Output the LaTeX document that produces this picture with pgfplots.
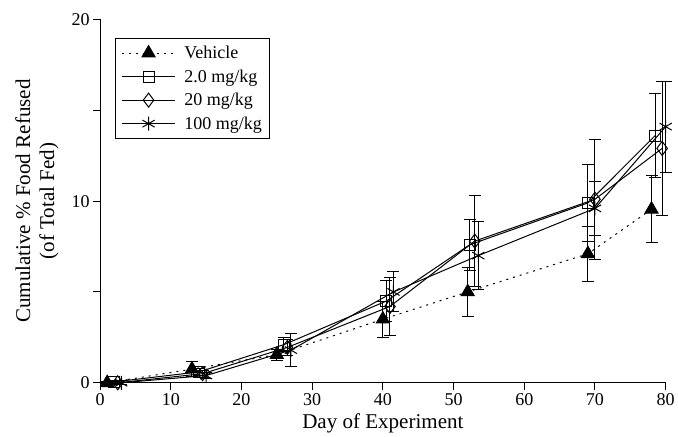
\documentclass[border={12pt 0pt 0pt 10pt}]{standalone}
\usepackage{fontspec}
\setmainfont{Liberation Serif}
\usepackage{pgfplots}
\pgfplotsset{compat=1.18}
\pgfplotstableread{
x y e
1 0 0.05
13 0.75 0.4
25 1.55 0.3
40 3.5 1.0
52 5.0 1.35
69 7.1 1.5
78 9.55 1.85
}\veh
\pgfplotstableread{
x y e
2 0.05 0.1
14 0.6 0.2
26 2.1 0.4
40.5 4.5 1.15
52.3 7.6 1.4
69 9.9 2.1
78.5 13.6 2.3
}\sq
\pgfplotstableread{
x y e
2.5 0 0.1
14.5 0.5 0.2
26.5 1.95 0.45
41 4.2 1.6
53 7.8 2.5
70 10.1 3.3
79.5 12.9 3.7
}\dia
\pgfplotstableread{
x y e
3 0 0.1
15 0.4 0.15
27 1.8 0.9
41.5 5.0 1.1
53.5 7.0 1.85
70 9.6 1.5
80 14.1 2.5
}\ast
\begin{document}
\begin{tikzpicture}
\begin{axis}[
 scale only axis, width=565pt, height=363pt,
 xmin=0, xmax=80, ymin=0, ymax=20,
 axis x line*=bottom, axis y line*=left,
 axis line style={-, line width=1pt},
 xtick={0,10,...,80}, ytick={0,5,...,20}, yticklabels={0,,10,,20},
 tick align=outside, major tick length=7pt,
 tick style={line width=1pt, black},
 tick label style={font=\fontsize{18}{21}\selectfont},
 label style={font=\fontsize{21}{24}\selectfont},
 /pgf/number format/assume math mode=true,
 xlabel={Day of Experiment},
 ylabel={Cumulative \% Food Refused\\(of Total Fed)},
 ylabel style={align=center, yshift=6pt},
 xlabel style={yshift=-1pt},
 clip=false,
 legend style={at={(0.027,0.95)}, anchor=north west, draw=black, line width=1pt,
   font=\fontsize{18}{21}\selectfont, row sep=5.5pt, inner sep=6pt,
   /tikz/every odd column/.append style={column sep=7pt}},
 legend cell align=left,
 legend image code/.code={\draw[mark repeat=2,mark phase=2] plot coordinates {(0cm,0cm) (0.92cm,0cm) (1.84cm,0cm)};},
 every axis plot/.append style={black, line width=1pt},
 error bars/error bar style={solid, line width=1pt},
 error bars/error mark options={rotate=90, mark size=6pt, solid, line width=1pt},
]
\addplot[dash pattern=on 2pt off 5pt, mark=triangle*, mark size=7.5pt, mark options={solid, fill=black},
  error bars/.cd, y dir=both, y explicit] table[x=x, y=y, y error=e] {\veh};
\addlegendentry{Vehicle}
\addplot[solid, mark=square, mark size=5.5pt, mark options={solid, fill=white},
  error bars/.cd, y dir=both, y explicit] table[x=x, y=y, y error=e] {\sq};
\addlegendentry{2.0 mg/kg}
\addplot[solid, mark=diamond, mark size=7pt, mark options={solid, fill=white},
  error bars/.cd, y dir=both, y explicit] table[x=x, y=y, y error=e] {\dia};
\addlegendentry{20 mg/kg}
\addplot[solid, mark=asterisk, mark size=7pt, mark options={solid},
  error bars/.cd, y dir=both, y explicit] table[x=x, y=y, y error=e] {\ast};
\addlegendentry{100 mg/kg}
\end{axis}
\end{tikzpicture}
\end{document}
